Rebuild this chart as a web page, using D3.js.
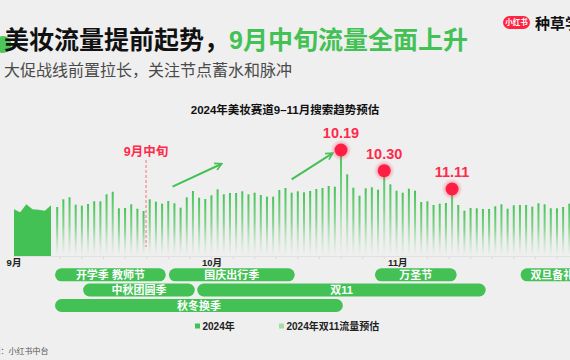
<!DOCTYPE html>
<html><head><meta charset="utf-8">
<script src="https://cdn.jsdelivr.net/npm/d3@7/dist/d3.min.js"></script>
<style>
html,body{margin:0;padding:0;background:#efefef;}
svg{display:block;}
text{font-family:"Liberation Sans","Noto Sans CJK SC",sans-serif;}
</style></head>
<body><svg id="c" width="570" height="360"></svg>
<script>
// ---- data ----
const actualValues = [46.7, 43.7, 51.7, 46.7, 46.3, 45.3, 50.7]; // 2024年 (day index 0..6)
const forecastValues = [
  49, 56.7, 58.7, 51.3, 50.3, 52, 54.7, 54.7, 61.7, 64.3,
  47.7, 48, 51.7, 47.3, 45, 56.7, 54.3, 52.3, 55, 52.7,
  48.3, 58.7, 65, 58.3, 57, 60.7, 66.7, 61.7, 63, 63,
  64.7, 61.7, 63.3, 61, 59.3, 59.3, 66, 68, 63.3, 64.7,
  63.7, 65, 67, 68, 70, 69.3, 106, 81.7, 68.3, 60.3,
  67.7, 68.7, 66.3, 85.3, 71.7, 65.3, 63.3, 67.3, 65.3, 54,
  54.7, 51, 52.3, 53, 67, 51, 45.3, 48, 47.7, 47,
  47, 49.7, 51.7, 47.3, 50.7, 51, 51, 49.3, 52.7, 51.7,
  47.7, 47.7, 49, 52.3
]; // 2024年双11流量预估 (day index 7..90)
const forecastStart = 7;
const monthLabels = ['9月', '10月', '11月'];
const monthIndex = [0, 32.1, 62.2];
const peakLabels = ['10.19', '10.30', '11.11'];
const peakIndex = [53, 60, 71];
const markerLabel = '9月中旬';
const markerIndex = 21.4;
const arrows = [
  {from: [25.7, 69.3], to: [33.6, 92]},
  {from: [45.0, 76.7], to: [51.6, 102.7]}
];
const eventNames = ['开学季 教师节', '国庆出行季', '万圣节', '双旦备礼季', '中秋团圆季', '双11', '秋冬换季'];
const eventStart = [6.65, 25.1, 58.5, 82.1, 11.2, 29.7, 6.65];
const eventEnd = [24.6, 45.5, 71.75, 94.2, 29.3, 76.45, 53.3];
const eventRow = [0, 0, 0, 0, 1, 1, 2];
const legendNames = ['2024年', '2024年双11流量预估'];

// ---- styles ----
const GREEN = '#43c155';
const RED = '#ff2a4a';

const svg = d3.select('#c');
svg.append('rect').attr('width', 570).attr('height', 360).attr('fill', '#efefef');

const x = d3.scaleLinear().domain([0, 90]).range([14, 569.3]);
const y = d3.scaleLinear().domain([0, 100]).range([256, 156]);

const defs = svg.append('defs');
const bg = defs.append('linearGradient').attr('id', 'barGrad')
  .attr('x1', 0).attr('y1', 0).attr('x2', 0).attr('y2', 1);
bg.append('stop').attr('offset', '0%').attr('stop-color', '#45c457').attr('stop-opacity', 1);
bg.append('stop').attr('offset', '45%').attr('stop-color', '#5ccb6b').attr('stop-opacity', 0.75);
bg.append('stop').attr('offset', '100%').attr('stop-color', '#8fdc99').attr('stop-opacity', 0);
const hg = defs.append('radialGradient').attr('id', 'halo');
hg.append('stop').attr('offset', '55%').attr('stop-color', '#ff3352').attr('stop-opacity', 0.35);
hg.append('stop').attr('offset', '100%').attr('stop-color', '#ff3352').attr('stop-opacity', 0);
defs.append('marker').attr('id', 'arr').attr('viewBox', '0 0 10 10')
  .attr('refX', 8).attr('refY', 5).attr('markerWidth', 4.5).attr('markerHeight', 4.5)
  .attr('markerUnits', 'strokeWidth').attr('orient', 'auto')
  .append('path').attr('d', 'M1,1 L8.5,5 L1,9').attr('fill', 'none')
  .attr('stroke', GREEN).attr('stroke-width', 1.8).attr('stroke-linejoin', 'miter');

// ---- headline ----
svg.append('circle').attr('cx', 3).attr('cy', 44.5).attr('r', 8.5).attr('fill', '#4cc55a');
const t = svg.append('text').attr('x', 4).attr('y', 48.5).attr('font-size', 25).attr('font-weight', 700);
t.append('tspan').attr('fill', '#111').text('美妆流量提前起势，');
t.append('tspan').attr('fill', GREEN).text('9月中旬流量全面上升');
svg.append('text').attr('x', 4).attr('y', 76).attr('font-size', 16).attr('fill', '#4a4a4a')
  .text('大促战线前置拉长，关注节点蓄水和脉冲');

// logo
svg.append('rect').attr('x', 503).attr('y', 16).attr('width', 27).attr('height', 13).attr('rx', 6.5).attr('fill', '#ff2442');
svg.append('text').attr('x', 516.5).attr('y', 25.3).attr('text-anchor', 'middle').attr('font-size', 7.5)
  .attr('font-weight', 700).attr('fill', '#fff').text('小红书');
svg.append('text').attr('x', 535).attr('y', 29).attr('font-size', 15).attr('font-weight', 700).attr('fill', '#111').text('种草学堂');

// chart title
svg.append('text').attr('x', 285).attr('y', 114).attr('text-anchor', 'middle').attr('font-size', 11.5)
  .attr('font-weight', 700).attr('fill', '#111').text('2024年美妆赛道9–11月搜索趋势预估');

// baseline + ticks
svg.append('line').attr('x1', x(0)).attr('x2', 570).attr('y1', y(0) + 0.5).attr('y2', y(0) + 0.5)
  .attr('stroke', '#e0e0e0').attr('stroke-width', 1);
svg.append('g').selectAll('line').data(d3.range(7.5, 91, 3.5)).join('line')
  .attr('x1', d => x(d)).attr('x2', d => x(d)).attr('y1', y(0) + 1).attr('y2', y(0) + 3)
  .attr('stroke', '#d8d8d8');

// actual area
const area = d3.area().x((d, i) => x(i)).y0(y(0)).y1(d => y(d));
svg.append('path').datum(actualValues).attr('d', area).attr('fill', GREEN);

// forecast bars
svg.append('g').selectAll('rect').data(forecastValues).join('rect')
  .attr('x', (d, i) => x(i + forecastStart) - 1)
  .attr('width', 2)
  .attr('y', d => y(d))
  .attr('height', d => y(0) - y(d))
  .attr('fill', 'url(#barGrad)');

// month labels
svg.append('g').selectAll('text').data(monthLabels).join('text')
  .attr('x', (d, i) => x(monthIndex[i])).attr('y', 266).attr('text-anchor', 'middle')
  .attr('font-size', 9.5).attr('font-weight', 700).attr('fill', '#222').text(d => d);

// marker line
svg.append('line').attr('x1', x(markerIndex)).attr('x2', x(markerIndex)).attr('y1', 160).attr('y2', 247)
  .attr('stroke', '#ff6b80').attr('stroke-width', 1).attr('stroke-dasharray', '3,2');
svg.append('text').attr('x', x(markerIndex)).attr('y', 156).attr('text-anchor', 'middle')
  .attr('font-size', 12.5).attr('font-weight', 700).attr('fill', RED).text(markerLabel);

// arrows
svg.append('g').selectAll('line').data(arrows).join('line')
  .attr('x1', d => x(d.from[0])).attr('y1', d => y(d.from[1]))
  .attr('x2', d => x(d.to[0])).attr('y2', d => y(d.to[1]))
  .attr('stroke', GREEN).attr('stroke-width', 2).attr('marker-end', 'url(#arr)');

// peaks
const peaks = svg.append('g').selectAll('g').data(peakLabels).join('g')
  .attr('transform', (d, i) => `translate(${x(peakIndex[i])},${y(forecastValues[peakIndex[i] - forecastStart])})`);
peaks.append('circle').attr('r', 10.5).attr('fill', 'url(#halo)');
peaks.append('circle').attr('r', 6.5).attr('fill', '#ff1f44');
peaks.append('text').attr('y', -12).attr('text-anchor', 'middle').attr('font-size', 14.5)
  .attr('font-weight', 700).attr('fill', RED).text(d => d);

// event pills
const rowY = [268.3, 283.5, 299];
const pills = svg.append('g').selectAll('g').data(eventNames).join('g');
pills.append('rect')
  .attr('x', (d, i) => x(eventStart[i])).attr('y', (d, i) => rowY[eventRow[i]])
  .attr('width', (d, i) => x(eventEnd[i]) - x(eventStart[i])).attr('height', 13).attr('rx', 6.5)
  .attr('fill', GREEN);
pills.append('text')
  .attr('x', (d, i) => (x(eventStart[i]) + x(eventEnd[i])) / 2).attr('y', (d, i) => rowY[eventRow[i]] + 10.7)
  .attr('text-anchor', 'middle').attr('font-size', 11).attr('font-weight', 700).attr('fill', '#fff')
  .text(d => d);

// legend
const legX = [195, 279];
const legColor = [GREEN, '#9edfa6'];
const leg = svg.append('g').selectAll('g').data(legendNames).join('g')
  .attr('transform', (d, i) => `translate(${legX[i]},326)`);
leg.append('rect').attr('y', -2.5).attr('width', 5).attr('height', 5).attr('fill', (d, i) => legColor[i]);
leg.append('text').attr('x', 7.5).attr('y', 3.6).attr('font-size', 10).attr('font-weight', 700)
  .attr('fill', '#222').text(d => d);

// source
svg.append('text').attr('x', 48.5).attr('y', 353.5).attr('text-anchor', 'end').attr('font-size', 8)
  .attr('fill', '#555').text('来源：小红书中台');
</script></body></html>
